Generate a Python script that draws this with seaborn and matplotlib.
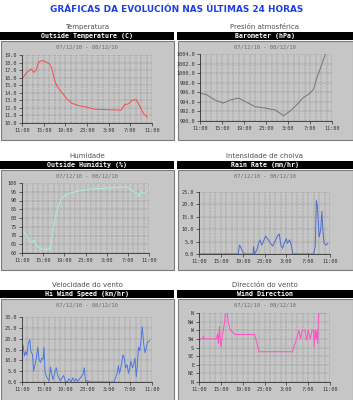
import numpy as np
import pandas as pd
import seaborn as sns
import matplotlib.pyplot as plt
from matplotlib.patches import Rectangle

# hours after 11:00 on 07/12/10
temp_h = [0.0, 0.9, 1.7, 2.15, 2.6, 3.1, 3.7, 4.4, 5.1, 5.5, 6.0, 6.5, 7.4, 8.3, 9.2, 10.5,
          12.0, 13.2, 14.5, 16.3, 18.3, 18.9, 19.7, 20.3, 21.1, 21.5, 22.2, 22.6, 23.1]
temp_c = [15.8, 16.7, 17.15, 16.7, 17.0, 18.1, 18.25, 18.1, 17.8, 17.25, 15.7, 14.8, 14.0, 13.2,
          12.6, 12.3, 12.1, 11.85, 11.8, 11.75, 11.7, 12.4, 12.55, 13.0, 13.1, 12.55, 11.55, 11.1, 10.8]

baro_h = [0.0, 1.2, 2.7, 4.25, 5.5, 7.0, 8.5, 10.0, 11.85, 13.7, 15.2, 16.4, 17.6, 18.8, 20.0,
          20.65, 21.3, 22.2, 22.8]
baro_hpa = [995.8, 995.5, 994.4, 993.75, 994.4, 994.8, 993.9, 993.0, 992.7, 992.3, 991.1, 992.1,
            993.4, 994.9, 995.8, 996.7, 999.2, 1002.0, 1004.0]

hum_h = [0.0, 0.6, 1.3, 1.9, 2.2, 2.8, 3.5, 4.4, 5.3, 5.7, 6.3, 7.3, 8.5, 10.4, 12.9, 16.1,
         19.3, 20.2, 20.9, 21.8, 22.1, 22.5, 23.1, 23.7]
hum_pct = [73.1, 71.2, 67.3, 65.8, 67.3, 64.4, 62.5, 61.9, 62.5, 69.2, 80.8, 90.4, 93.8, 95.2,
           96.5, 97.1, 97.7, 97.1, 95.2, 94.2, 92.3, 95.2, 94.2, 95.2]

rain_h = [0.0, 7.2, 7.4, 7.6, 7.9, 8.3, 9.9, 10.0, 10.2, 10.6, 10.9, 11.2, 11.5, 11.8, 12.2,
          12.7, 13.1, 13.5, 13.9, 14.4, 14.7, 15.0, 15.3, 15.6, 16.0, 16.2, 16.6, 16.9, 17.2,
          21.0, 21.3, 21.5, 21.7, 22.0, 22.3, 22.5, 22.7, 22.9, 23.3, 23.6]
rain_mm = [0.0, 0.0, 3.6, 3.0, 1.4, 0.0, 0.0, 3.0, 0.0, 1.6, 4.3, 5.7, 3.6, 5.0, 7.3,
           5.7, 4.3, 3.2, 5.0, 7.3, 8.1, 3.6, 2.3, 4.3, 6.2, 4.3, 5.7, 3.6, 0.0,
           0.0, 3.0, 21.6, 19.0, 6.8, 9.7, 17.2, 9.7, 4.3, 3.6, 4.3]

wind_h = [0.0, 0.2, 0.45, 0.7, 0.9, 1.2, 1.45, 1.65, 1.95, 2.15, 2.4, 2.65, 2.9, 3.15, 3.4, 3.65,
          3.9, 4.05, 4.25, 4.5, 4.75, 5.0, 5.25, 5.5, 5.75, 6.05, 6.35, 6.6, 6.85, 7.1, 7.4, 7.7,
          8.0, 8.3, 8.7, 9.05, 9.4, 9.65, 10.0, 10.3, 10.65, 10.95, 11.25, 11.5, 11.75, 12.1,
          12.5, 17.0, 17.2, 17.55, 17.8, 18.0, 18.2, 18.4, 18.65, 18.9, 19.1, 19.4, 19.65, 19.9,
          20.1, 20.4, 20.6, 20.85, 21.1, 21.3, 21.5, 21.75, 22.0, 22.2, 22.45, 22.7, 22.95,
          23.2, 23.55]
wind_kmh = [12, 17, 12, 14, 12.5, 18, 19.5, 14, 12.5, 5, 8, 11, 16, 10.5, 9, 11,
            10.5, 16, 5, 2.5, 1.5, 0.5, 7, 3.5, 1, 4.5, 6.5, 3, 1.5, 0.5, 2, 3,
            0.3, 0, 1.5, 0, 2, 0.3, 1.5, 0.3, 1.5, 2.5, 3.5, 6.5, 0, 0.7,
            0, 0, 1.5, 4, 7.5, 4, 6, 9, 12.5, 11, 6.5, 8, 4, 6.5,
            9.5, 6.5, 8, 11, 2.5, 8, 16, 14.5, 20, 25.5, 18, 13.5, 16,
            18.5, 19]

dir_h = [0.0, 0.7, 0.8, 0.9, 3.2, 3.4, 3.55, 3.75, 3.9, 4.05, 4.25, 4.45, 4.7, 4.85, 5.15, 5.4,
         5.75, 6.2, 6.6, 10.2, 11.0, 11.8, 17.1, 17.6, 18.0, 18.3, 18.6, 18.9, 19.4, 19.7, 20.0,
         20.4, 20.7, 21.0, 21.1, 21.3, 21.5, 21.6, 21.75, 21.9, 23.1]
dir_deg = [225, 225, 240, 225, 225, 250, 200, 290, 210, 185, 236, 270, 320, 360, 360, 305,
           270, 260, 248, 248, 158, 158, 158, 200, 236, 270, 225, 270, 270, 220, 270,
           225, 270, 270, 184, 270, 225, 270, 200, 360, 360]

x_ticks = [0, 4, 8, 12, 16, 20, 24]
x_labels = ["11:00", "15:00", "19:00", "23:00", "3:00", "7:00", "11:00"]
dir_labels = ["N", "NE", "E", "SE", "S", "SW", "W", "NW", "N"]

W, H = 353, 400
fig = plt.figure(figsize=(W / 100, H / 100), dpi=100)
fig.patch.set_facecolor("white")

BOX = "#c6c6c6"
MONO = "DejaVu Sans Mono"


def fx(x):
    return x / W


def fy(y):
    return 1 - y / H


fig.text(0.5, fy(10), "GRÁFICAS DA EVOLUCIÓN NAS ÚLTIMAS 24 HORAS", ha="center", va="center",
         color="#1f3fe0", fontsize=6.4, fontweight="bold", family="DejaVu Sans")

rows = [(27, 32, 40, 140), (156, 161, 169, 270), (285, 290, 298, 401)]
cols = [(0, 174), (177, 353)]

panels = [
    dict(sub="Temperatura", head="Outside Temperature (C)", x=temp_h, y=temp_c, color="#ff4848",
         plot=(22, 152, 55, 123), ylim=(10, 19), yt=np.arange(10, 19.1, 1), fmt="{:.1f}"),
    dict(sub="Presión atmosférica", head="Barometer (hPa)", x=baro_h, y=baro_hpa, color="#747474",
         plot=(200, 332, 54, 121), ylim=(990, 1004), yt=np.arange(990, 1004.1, 2), fmt="{:.1f}"),
    dict(sub="Humidade", head="Outside Humidity (%)", x=hum_h, y=hum_pct, color="#a6f2d6",
         plot=(22, 149, 183, 253), ylim=(60, 100), yt=np.arange(60, 100.1, 5), fmt="{:.0f}"),
    dict(sub="Intensidade de choiva", head="Rain Rate (mm/hr)", x=rain_h, y=rain_mm, color="#4a6ed2",
         plot=(199, 330, 192, 254), ylim=(0, 25), yt=np.arange(0, 25.1, 5), fmt="{:.1f}"),
    dict(sub="Velocidade do vento", head="Hi Wind Speed (km/hr)", x=wind_h, y=wind_kmh, color="#4a78e6",
         plot=(22, 152, 317, 382), ylim=(0, 30), yt=np.arange(0, 30.1, 5), fmt="{:.1f}"),
    dict(sub="Dirección do vento", head="Wind Direction", x=dir_h, y=dir_deg, color="#ff50c8",
         plot=(199, 330, 313, 382), ylim=(0, 360), yt=np.arange(0, 361, 45), fmt=None),
]

for i, p in enumerate(panels):
    sub_y, bar_t, bar_b, box_b = rows[i // 2]
    cx0, cx1 = cols[i % 2]
    mid = fx((cx0 + cx1) / 2)
    fig.text(mid, fy(sub_y), p["sub"], ha="center", va="center", color="#505050",
             fontsize=5, family="DejaVu Sans")
    fig.patches.append(Rectangle((fx(cx0), fy(bar_b)), fx(cx1 - cx0), (bar_b - bar_t) / H,
                                 transform=fig.transFigure, facecolor="black", edgecolor="none",
                                 zorder=-2))
    fig.text(mid, fy((bar_t + bar_b) / 2), p["head"], ha="center", va="center", color="white",
             fontsize=4.8, fontweight="bold", family=MONO)
    fig.patches.append(Rectangle((fx(cx0 + 0.5), fy(box_b - 0.5)), fx(cx1 - cx0 - 1), (box_b - bar_b - 1) / H,
                                 transform=fig.transFigure, facecolor=BOX, edgecolor="#7c7c7c",
                                 linewidth=0.8, zorder=-2))
    fig.text(mid, fy(bar_b + 7), "07/12/10 - 08/12/10", ha="center", va="center",
             color="#6a6a6a", fontsize=4, family=MONO)

    px0, px1, pt, pb = p["plot"]
    ax = fig.add_axes([fx(px0), fy(pb), fx(px1 - px0), (pb - pt) / H])
    ax.set_facecolor(BOX)
    df = pd.DataFrame({"h": p["x"], "v": p["y"]})
    sns.lineplot(data=df, x="h", y="v", ax=ax, color=p["color"], linewidth=0.7, sort=False)
    ax.set_xlim(0, 24)
    ax.set_ylim(*p["ylim"])
    ax.set_xticks(x_ticks)
    ax.set_xticklabels(x_labels)
    ax.set_xticks(np.arange(0, 25, 1), minor=True)
    ax.set_yticks(p["yt"])
    if p["fmt"] is None:
        ax.set_yticklabels(dir_labels)
    else:
        ax.set_yticklabels([p["fmt"].format(v) for v in p["yt"]])
    ax.grid(True, which="both", axis="x", color="#444444", linestyle=(0, (1, 2)), linewidth=0.35)
    ax.grid(True, which="major", axis="y", color="#444444", linestyle=(0, (1, 2)), linewidth=0.35)
    ax.tick_params(axis="both", which="major", labelsize=3.7, length=2, width=0.5,
                   colors="#303030", pad=1.5)
    ax.tick_params(axis="both", which="minor", length=0)
    for lab in ax.get_xticklabels() + ax.get_yticklabels():
        lab.set_family(MONO)
    for s in ["top", "right"]:
        ax.spines[s].set_visible(False)
    for s in ["left", "bottom"]:
        ax.spines[s].set_color("#303030")
        ax.spines[s].set_linewidth(0.6)
    ax.set_xlabel("")
    ax.set_ylabel("")

fig.savefig("out.png", dpi=100)
